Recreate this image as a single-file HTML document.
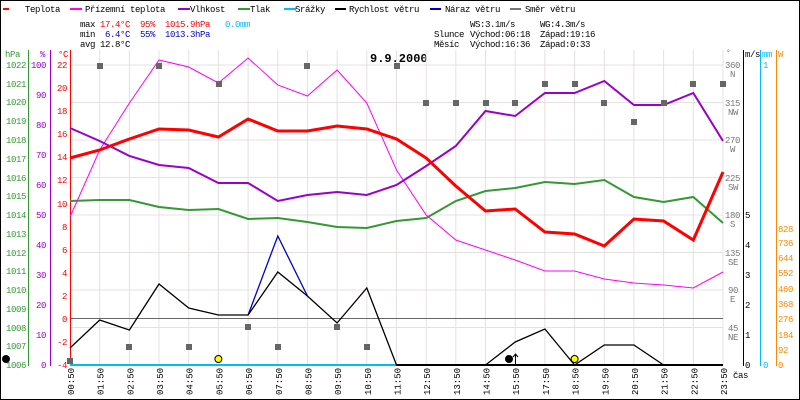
<!DOCTYPE html>
<html><head><meta charset="utf-8"><style>
html,body{margin:0;padding:0;background:#fff;}
svg{display:block;font-family:"Liberation Mono",monospace;font-size:9px;letter-spacing:-0.4px;}
</style></head><body>
<svg width="800" height="400" viewBox="0 0 800 400" xmlns="http://www.w3.org/2000/svg">
<rect x="0" y="0" width="800" height="400" fill="#fff"/>
<rect x="0.5" y="0.5" width="799" height="399" fill="none" stroke="#000"/>
<!-- legend -->
<g stroke-width="2">
<line x1="3" y1="9" x2="9" y2="9" stroke="#f00"/>
<line x1="70" y1="9" x2="82" y2="9" stroke="#f0f"/>
<line x1="178" y1="9" x2="190" y2="9" stroke="#90c"/>
<line x1="238" y1="9" x2="250" y2="9" stroke="#393"/>
<line x1="284" y1="9" x2="296" y2="9" stroke="#0bf"/>
<line x1="335" y1="9" x2="346" y2="9" stroke="#000"/>
<line x1="430" y1="9" x2="441" y2="9" stroke="#00c"/>
<line x1="510" y1="9" x2="521" y2="9" stroke="#777"/>
</g>
<g fill="#000">
<text x="25" y="12">Teplota</text>
<text x="85" y="12">Přízemní teplota</text>
<text x="190" y="12">Vlhkost</text>
<text x="250" y="12">Tlak</text>
<text x="295" y="12">Srážky</text>
<text x="349" y="12">Rychlost větru</text>
<text x="445" y="12">Náraz větru</text>
<text x="525" y="12">Směr větru</text>
<text x="80" y="27">max</text><text x="80" y="37">min</text><text x="80" y="47">avg 12.8°C</text>
<text x="470" y="27">WS:3.1m/s</text><text x="540" y="27">WG:4.3m/s</text>
<text x="434" y="37">Slunce</text><text x="470" y="37">Východ:06:18</text><text x="540" y="37">Západ:19:16</text>
<text x="434" y="47">Měsíc</text><text x="470" y="47">Východ:16:36</text><text x="540" y="47">Západ:0:33</text>
</g>
<text x="100" y="27" fill="#f00">17.4°C</text><text x="140" y="27" fill="#f00">95%</text><text x="165" y="27" fill="#f00">1015.9hPa</text><text x="225" y="27" fill="#0bf">0.0mm</text>
<text x="105" y="37" fill="#00c">6.4°C</text><text x="140" y="37" fill="#00c">55%</text><text x="165" y="37" fill="#00c">1013.3hPa</text>
<text x="370" y="62" font-weight="bold" font-size="12" letter-spacing="0" fill="#000">9.9.2000</text>
<!-- grid -->
<g stroke="#e6e0e0" stroke-width="1">
<line x1="70" y1="65" x2="723" y2="65"/><line x1="70" y1="102.5" x2="723" y2="102.5"/><line x1="70" y1="140" x2="723" y2="140"/><line x1="70" y1="177.5" x2="723" y2="177.5"/><line x1="70" y1="215" x2="723" y2="215"/><line x1="70" y1="252.5" x2="723" y2="252.5"/><line x1="70" y1="290" x2="723" y2="290"/><line x1="70" y1="327.5" x2="723" y2="327.5"/>
<line x1="99.7" y1="50" x2="99.7" y2="365"/><line x1="129.4" y1="50" x2="129.4" y2="365"/><line x1="159" y1="50" x2="159" y2="365"/><line x1="188.7" y1="50" x2="188.7" y2="365"/><line x1="218.4" y1="50" x2="218.4" y2="365"/><line x1="248.1" y1="50" x2="248.1" y2="365"/><line x1="277.8" y1="50" x2="277.8" y2="365"/><line x1="307.4" y1="50" x2="307.4" y2="365"/><line x1="337.1" y1="50" x2="337.1" y2="365"/><line x1="366.8" y1="50" x2="366.8" y2="365"/><line x1="396.5" y1="50" x2="396.5" y2="365"/><line x1="426.2" y1="50" x2="426.2" y2="365"/><line x1="455.8" y1="50" x2="455.8" y2="365"/><line x1="485.5" y1="50" x2="485.5" y2="365"/><line x1="515.2" y1="50" x2="515.2" y2="365"/><line x1="544.9" y1="50" x2="544.9" y2="365"/><line x1="574.6" y1="50" x2="574.6" y2="365"/><line x1="604.3" y1="50" x2="604.3" y2="365"/><line x1="633.9" y1="50" x2="633.9" y2="365"/><line x1="663.6" y1="50" x2="663.6" y2="365"/><line x1="693.3" y1="50" x2="693.3" y2="365"/><line x1="723" y1="50" x2="723" y2="365"/>
</g>
<line x1="70" y1="318.5" x2="723" y2="318.5" stroke="#666"/>
<!-- axes -->
<line x1="28.5" y1="50" x2="28.5" y2="366" stroke="#393"/>
<line x1="50.5" y1="50" x2="50.5" y2="366" stroke="#90c"/>
<line x1="70.5" y1="50" x2="70.5" y2="366" stroke="#f00"/>
<line x1="743.5" y1="50" x2="743.5" y2="366" stroke="#000"/>
<line x1="760.5" y1="50" x2="760.5" y2="366" stroke="#0bf"/>
<line x1="776.5" y1="50" x2="776.5" y2="366" stroke="#f80"/>
<text x="5" y="57" fill="#393">hPa</text><text x="40" y="57" fill="#90c">%</text><text x="58" y="57" fill="#f00">°C</text>
<text x="726" y="55" fill="#777" font-size="8">°</text>
<text x="745" y="57" fill="#000">m/s</text><text x="762" y="57" fill="#0bf">mm</text><text x="778" y="57" fill="#f80">W</text>
<g fill="#393" text-anchor="end">
<text x="26" y="68">1022</text><text x="26" y="87">1021</text><text x="26" y="105">1020</text><text x="26" y="124">1019</text><text x="26" y="143">1018</text><text x="26" y="162">1017</text><text x="26" y="181">1016</text><text x="26" y="199">1015</text><text x="26" y="218">1014</text><text x="26" y="237">1013</text><text x="26" y="256">1012</text><text x="26" y="274">1011</text><text x="26" y="293">1010</text><text x="26" y="312">1009</text><text x="26" y="331">1008</text><text x="26" y="349">1007</text><text x="26" y="368">1006</text>
</g>
<g fill="#90c" text-anchor="end">
<text x="46" y="68">100</text><text x="46" y="98">90</text><text x="46" y="128">80</text><text x="46" y="158">70</text><text x="46" y="188">60</text><text x="46" y="218">50</text><text x="46" y="248">40</text><text x="46" y="278">30</text><text x="46" y="308">20</text><text x="46" y="338">10</text><text x="46" y="368">0</text>
</g>
<g fill="#f00" text-anchor="end">
<text x="67" y="68">22</text><text x="67" y="91">20</text><text x="67" y="114">18</text><text x="67" y="137">16</text><text x="67" y="160">14</text><text x="67" y="183">12</text><text x="67" y="207">10</text><text x="67" y="230">8</text><text x="67" y="253">6</text><text x="67" y="276">4</text><text x="67" y="299">2</text><text x="67" y="322">0</text><text x="67" y="345">-2</text><text x="67" y="368">-4</text>
</g>
<g fill="#777">
<text x="725" y="68">360</text><text x="730" y="77">N</text>
<text x="725" y="106">315</text><text x="728" y="115">NW</text>
<text x="725" y="143">270</text><text x="730" y="152">W</text>
<text x="725" y="181">225</text><text x="728" y="190">SW</text>
<text x="725" y="218">180</text><text x="730" y="227">S</text>
<text x="725" y="256">135</text><text x="728" y="265">SE</text>
<text x="728" y="293">90</text><text x="730" y="302">E</text>
<text x="728" y="331">45</text><text x="728" y="340">NE</text>
</g>
<g fill="#000"><text x="745" y="218">5</text><text x="745" y="248">4</text><text x="745" y="278">3</text><text x="745" y="308">2</text><text x="745" y="338">1</text><text x="745" y="368">0</text></g>
<g fill="#0bf"><text x="763" y="68">1</text><text x="763" y="368">0</text></g>
<g fill="#f80"><text x="778" y="232">828</text><text x="778" y="246">736</text><text x="778" y="261">644</text><text x="778" y="276">552</text><text x="778" y="292">460</text><text x="778" y="307">368</text><text x="778" y="322">276</text><text x="778" y="338">184</text><text x="778" y="353">92</text><text x="778" y="368">0</text></g>
<!-- series -->
<line x1="70" y1="365" x2="723" y2="365" stroke="#0bf" stroke-width="2"/>
<polyline fill="none" stroke="#00c" stroke-width="1.3" points="248.1,315 277.8,236 307.4,296"/>
<polyline fill="none" stroke="#000" stroke-width="1.3" points="70,348 99.7,320 129.4,330 159,284 188.7,308 218.4,315 248.1,315 277.8,272 307.4,296 337.1,323 366.8,288 396.5,365 485.5,365 515.2,342 544.9,329 574.6,365 604.3,345 633.9,345 663.6,365 723,365"/>
<line x1="396.5" y1="365" x2="723" y2="365" stroke="#000" stroke-width="2"/>
<polyline fill="none" stroke="#393" stroke-width="2" points="70,201 99.7,200 129.4,200 159,207 188.7,210 218.4,209 248.1,219 277.8,218 307.4,222 337.1,227 366.8,228 396.5,221 426.2,218 455.8,201 485.5,191 515.2,188 544.9,182 574.6,184 604.3,180 633.9,197 663.6,202 693.3,197 723,223"/>
<polyline fill="none" stroke="#f0f" stroke-width="1" points="70,217 99.7,150 129.4,103 159,60 188.7,67 218.4,83 248.1,58 277.8,85 307.4,96 337.1,70 366.8,103 396.5,170 426.2,215 455.8,240 485.5,250 515.2,260 544.9,271 574.6,271 604.3,279 633.9,283 663.6,285 693.3,288 723,272"/>
<polyline fill="none" stroke="#90c" stroke-width="2" points="70,128 99.7,141 129.4,156 159,165 188.7,168 218.4,183 248.1,183 277.8,201 307.4,195 337.1,192 366.8,195 396.5,185 426.2,166 455.8,146 485.5,111 515.2,116 544.9,93 574.6,93 604.3,81 633.9,105 663.6,105 693.3,93 723,141"/>
<polyline fill="none" stroke="#f00" stroke-width="3" points="70,158 99.7,150 129.4,139 159,129 188.7,130 218.4,137 248.1,119 277.8,131 307.4,131 337.1,126 366.8,129 396.5,139 426.2,158 455.8,186 485.5,211 515.2,209 544.9,232 574.6,234 604.3,246 633.9,219 663.6,221 693.3,240 723,172"/>
<g fill="#666">
<rect x="67" y="358" width="6" height="6"/><rect x="97" y="63" width="6" height="6"/><rect x="126" y="344" width="6" height="6"/><rect x="156" y="63" width="6" height="6"/><rect x="186" y="344" width="6" height="6"/><rect x="216" y="81" width="6" height="6"/><rect x="245" y="324" width="6" height="6"/><rect x="275" y="344" width="6" height="6"/><rect x="304" y="63" width="6" height="6"/><rect x="334" y="324" width="6" height="6"/><rect x="364" y="344" width="6" height="6"/><rect x="394" y="63" width="6" height="6"/><rect x="423" y="100" width="6" height="6"/><rect x="453" y="100" width="6" height="6"/><rect x="483" y="100" width="6" height="6"/><rect x="512" y="100" width="6" height="6"/><rect x="542" y="81" width="6" height="6"/><rect x="572" y="81" width="6" height="6"/><rect x="601" y="100" width="6" height="6"/><rect x="631" y="119" width="6" height="6"/><rect x="661" y="100" width="6" height="6"/><rect x="690" y="81" width="6" height="6"/><rect x="720" y="81" width="6" height="6"/>
</g>
<circle cx="218.4" cy="359" r="3.5" fill="#ff0" stroke="#000"/>
<circle cx="574.6" cy="359" r="3.5" fill="#ff0" stroke="#000"/>
<circle cx="509" cy="359" r="4" fill="#000"/>
<circle cx="6" cy="359" r="4" fill="#000"/>
<line x1="515.5" y1="365" x2="515.5" y2="354" stroke="#000"/><polyline points="513,357 515.5,354 518,357" fill="none" stroke="#000"/>
<!-- x labels -->
<g fill="#000" font-size="9" letter-spacing="0">
<text transform="translate(74,395) rotate(-90)">00:50</text><text transform="translate(103.7,395) rotate(-90)">01:50</text><text transform="translate(133.4,395) rotate(-90)">02:50</text><text transform="translate(163,395) rotate(-90)">03:50</text><text transform="translate(192.7,395) rotate(-90)">04:50</text><text transform="translate(222.4,395) rotate(-90)">05:50</text><text transform="translate(252.1,395) rotate(-90)">06:50</text><text transform="translate(281.8,395) rotate(-90)">07:50</text><text transform="translate(311.4,395) rotate(-90)">08:50</text><text transform="translate(341.1,395) rotate(-90)">09:50</text><text transform="translate(370.8,395) rotate(-90)">10:50</text><text transform="translate(400.5,395) rotate(-90)">11:50</text><text transform="translate(430.2,395) rotate(-90)">12:50</text><text transform="translate(459.8,395) rotate(-90)">13:50</text><text transform="translate(489.5,395) rotate(-90)">14:50</text><text transform="translate(519.2,395) rotate(-90)">15:50</text><text transform="translate(548.9,395) rotate(-90)">17:50</text><text transform="translate(578.6,395) rotate(-90)">18:50</text><text transform="translate(608.3,395) rotate(-90)">19:50</text><text transform="translate(637.9,395) rotate(-90)">20:50</text><text transform="translate(667.6,395) rotate(-90)">21:50</text><text transform="translate(697.3,395) rotate(-90)">22:50</text><text transform="translate(727,395) rotate(-90)">23:50</text>
</g>
<text x="733" y="378" fill="#000">čas</text>
</svg>
</body></html>
